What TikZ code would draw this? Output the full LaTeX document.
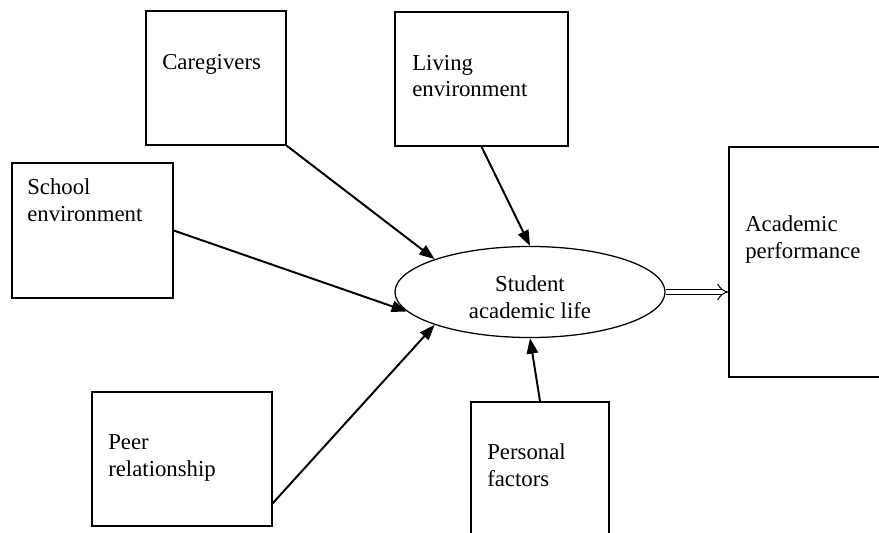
\documentclass[tikz,border=0pt]{standalone}
\usepackage{fontspec}
\setmainfont{Liberation Serif}
\usetikzlibrary{shapes.geometric, arrows.meta}
\newcommand{\mytext}{\fontsize{16.2}{19.2}\selectfont}
\tikzset{
  factor/.style={rectangle, draw=black, line width=1pt, inner sep=0pt},
  hub/.style={ellipse, draw=black, line width=0.9pt, inner sep=0pt,
    minimum width=6.75cm, minimum height=2.275cm, align=center, font=\mytext},
  lbl/.style={anchor=base west, inner sep=0pt, align=left, font=\mytext},
  arrow/.style={-{Triangle[length=11pt,width=8pt]}, line width=1.4pt},
  dblarrow/.style={-{Implies}, double, double distance=3.5pt, line width=0.7pt}
}

\begin{document}
\begin{tikzpicture}[x=0.025cm, y=-0.025cm]
  \clip (0,0) rectangle (879,532);

  % Factor boxes
  \node[factor, minimum width=3.5cm, minimum height=3.35cm] (care) at (216,78) {};
  \node[factor, minimum width=4.325cm, minimum height=3.35cm] (living) at (481.5,79) {};
  \node[factor, minimum width=4.025cm, minimum height=3.375cm] (school) at (92.5,230.5) {};
  \node[factor, minimum width=4.5cm, minimum height=3.35cm] (peer) at (182,459) {};
  \node[factor, minimum width=3.45cm, minimum height=3.3cm] (personal) at (540,468) {};
  \node[factor, minimum width=3.8cm, minimum height=5.75cm] (perf) at (805,262) {};

  % Box texts (base = last line)
  \node[lbl] (care-t) at (162,69) {Caregivers};
  \node[lbl] (living-t) at (412,97) {Living\\environment};
  \node[lbl] (school-t) at (27,221) {School\\environment};
  \node[lbl] (peer-t) at (108,476) {Peer\\relationship};
  \node[lbl] (personal-t) at (487,486) {Personal\\factors};
  \node[lbl] (perf-t) at (745,258) {Academic\\performance};

  % Central ellipse
  \node[hub] (life) at (530,292) {\rule{0pt}{18pt}Student\\academic life};

  % Influences
  \draw[arrow] (care.south east) -- (life.161);
  \draw[arrow] (living.south) -- (life.north);
  \draw[arrow] (school.east) -- (life.189);
  \draw[arrow] (peer.-26) -- (life.199);
  \draw[arrow] (personal.north) -- (life.south);

  % Outcome
  \draw[dblarrow] (life.east) -- (life.east -| perf.west);
\end{tikzpicture}
\end{document}
